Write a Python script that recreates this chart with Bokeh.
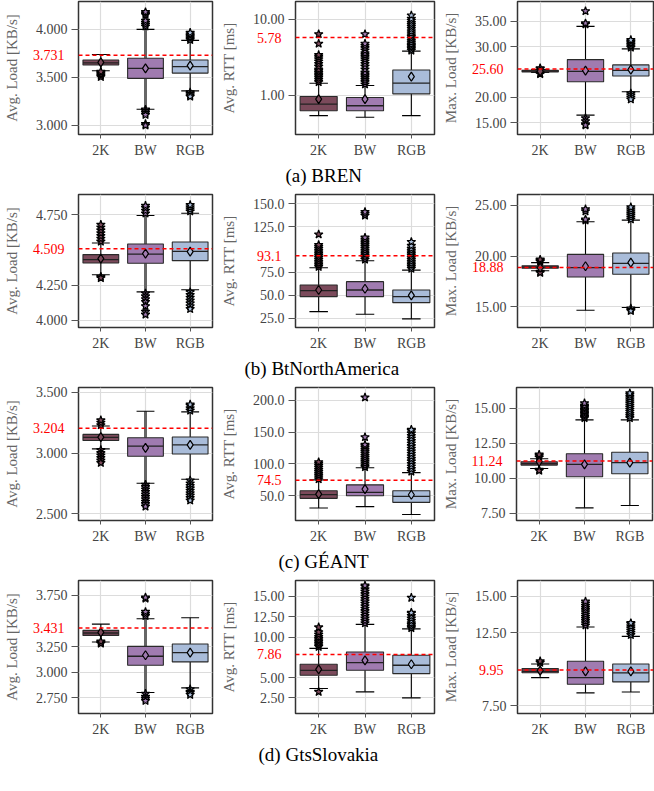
from bokeh.plotting import figure
from bokeh.layouts import row, column
from bokeh.models import (FactorRange, Range1d, FixedTicker, PrintfTickFormatter, Span, Title,
                          LinearAxis, LogAxis)
from bokeh.embed import file_html
from bokeh.resources import INLINE

CATS = ["2K", "BW", "RGB"]
COLORS = ["#7b4a5b", "#a07bb0", "#a9bcd9"]
FONT = "Liberation Serif"

CAPTIONS = ["(a) BREN", "(b) BtNorthAmerica", "(c) GÉANT", "(d) GtsSlovakia"]
CAPTION_OFFSETS = [-10, -51, -17, -37]
YLABELS = ["Avg. Load [KB/s]", "Avg. RTT [ms]", "Max. Load [KB/s]"]

# ---------------- (a) BREN ----------------
bren_load = dict(low=[3.570, 3.168, 3.360], q1=[3.629, 3.490, 3.545], med=[3.652, 3.594, 3.612],
                 q3=[3.682, 3.699, 3.682], high=[3.738, 4.000, 3.885], mean=[3.657, 3.594, 3.622])
bren_load_out = [[3.505, 3.52, 3.535, 3.55, 3.56],
                 [4.03, 4.05, 4.07, 4.09, 4.15, 4.165, 4.18, 3.165, 3.15, 3.13, 3.11, 3.015, 3.0],
                 [3.89, 3.905, 3.92, 3.935, 3.95, 3.965, 3.345, 3.33, 3.315, 3.30]]
bren_rtt = dict(low=[0.543, 0.517, 0.543], q1=[0.631, 0.631, 1.05], med=[0.77, 0.733, 1.45],
                q3=[0.97, 0.94, 2.16], high=[1.45, 1.35, 3.83], mean=[0.895, 0.895, 1.77])
bren_rtt_out = [[1.5, 1.6, 1.7, 1.8, 1.9, 2.0, 2.1, 2.2, 2.4, 2.6, 2.8, 3.0, 3.2, 3.4, 4.8, 6.4],
                [1.4, 1.5, 1.6, 1.7, 1.8, 1.9, 2.0, 2.2, 2.4, 2.6, 2.8, 3.0, 3.2, 3.4, 3.6, 3.9, 4.2, 4.5, 4.8, 6.4],
                [3.9, 4.1, 4.3, 4.5, 4.7, 5.0, 5.3, 5.6, 5.9, 6.2, 6.6, 7.0, 7.5, 8.0, 8.5, 9.0, 9.6, 10.2, 11.3]]
bren_max = dict(low=[24.9, 16.5, 21.1], q1=[25.0, 23.08, 24.2], med=[25.2, 25.13, 25.33],
                q3=[25.35, 27.45, 26.4], high=[25.5, 34.0, 29.57], mean=[25.15, 25.26, 25.46])
bren_max_out = [[24.6, 24.75, 25.6, 25.75],
                [37.0, 34.4, 34.6, 15.9, 15.3, 14.7, 14.5],
                [29.8, 30.1, 30.4, 30.7, 31.0, 31.3, 20.8, 20.4, 20.0, 19.6]]
bren_refs = [3.731, 5.78, 25.60]

# ---------------- (b) BtNorthAmerica ----------------
btna_load = dict(low=[4.324, 4.202, 4.217], q1=[4.407, 4.405, 4.424], med=[4.431, 4.471, 4.490],
                 q3=[4.467, 4.543, 4.557], high=[4.55, 4.745, 4.762], mean=[4.438, 4.474, 4.488])
btna_load_out = [[4.56, 4.58, 4.60, 4.62, 4.64, 4.66, 4.68, 4.31, 4.30],
                 [4.76, 4.78, 4.80, 4.815, 4.19, 4.17, 4.15, 4.13, 4.10, 4.06, 4.04],
                 [4.775, 4.79, 4.805, 4.82, 4.20, 4.18, 4.16, 4.14, 4.12, 4.10, 4.08]]
btna_rtt = dict(low=[32.2, 29.3, 24.3], q1=[48.6, 48.6, 42.0], med=[55.1, 55.8, 48.6],
                q3=[61.2, 64.9, 55.8], high=[80.1, 87.7, 77.5], mean=[55.8, 57.2, 50.0])
btna_rtt_out = [[81, 83, 85, 87, 89, 91, 93, 95, 97, 99, 101, 103, 105, 116.5],
                [89, 91, 93, 95, 97, 99, 101, 103, 105, 107, 109, 111, 113, 137, 139, 141],
                [79, 81, 83, 85, 87, 89, 91, 93, 95, 97, 99, 101, 104, 108.3]]
btna_max = dict(low=[18.55, 14.67, 14.93], q1=[18.80, 17.94, 18.2], med=[18.92, 18.85, 19.28],
                q3=[19.05, 20.16, 20.29], high=[19.35, 23.37, 23.53], mean=[18.85, 18.99, 19.35])
btna_max_out = [[19.45, 19.55, 19.65, 18.45, 18.35],
                [23.5, 23.6, 24.4, 24.6],
                [23.6, 23.8, 24.0, 24.2, 24.4, 24.6, 24.8, 14.85, 14.7, 14.6]]
btna_refs = [4.509, 93.1, 18.88]

# ---------------- (c) GÉANT ----------------
geant_load = dict(low=[3.035, 2.752, 2.785], q1=[3.104, 2.974, 2.993], med=[3.129, 3.057, 3.068],
                  q3=[3.154, 3.126, 3.132], high=[3.223, 3.345, 3.339], mean=[3.132, 3.043, 3.068])
geant_load_out = [[3.23, 3.25, 3.27, 3.025, 3.0, 2.98, 2.96, 2.94, 2.92],
                  [2.74, 2.72, 2.70, 2.68, 2.66, 2.64, 2.62, 2.60, 2.58, 2.56],
                  [3.35, 3.37, 3.39, 3.40, 2.775, 2.75, 2.73, 2.71, 2.69, 2.67, 2.65, 2.63, 2.61]]
geant_rtt = dict(low=[30.8, 32.9, 20.5], q1=[45.9, 50.0, 39.6], med=[51.6, 55.2, 49.0],
                 q3=[57.8, 67.1, 57.8], high=[74.9, 94.0, 86.3], mean=[52.6, 60.4, 51.6])
geant_rtt_out = [[76, 79, 82, 85, 88, 91, 94, 97, 100, 102.8],
                 [95, 98, 101, 104, 107, 110, 113, 116, 119, 122, 125, 128, 130, 142, 204.4],
                 [88, 92, 96, 100, 104, 108, 112, 116, 120, 124, 128, 132, 136, 140, 144, 148, 152, 153.6]]
geant_max = dict(low=[10.71, 7.9, 8.07], q1=[10.95, 10.12, 10.33], med=[11.05, 11.0, 11.12],
                 q3=[11.19, 11.76, 11.86], high=[11.4, 14.17, 14.17], mean=[11.19, 11.0, 11.12])
geant_max_out = [[11.5, 11.6, 11.7, 10.62, 10.55],
                 [14.3, 14.4, 14.5, 14.6, 14.7, 14.8, 14.9, 15.0, 15.1, 15.2, 15.36],
                 [14.3, 14.45, 14.6, 14.75, 14.9, 15.05, 15.2, 15.35, 15.5, 15.65, 15.8, 15.95, 16.07]]
geant_refs = [3.204, 74.5, 11.24]

# ---------------- (d) GtsSlovakia ----------------
gts_load = dict(low=[3.295, 2.802, 2.847], q1=[3.36, 3.068, 3.101], med=[3.383, 3.156, 3.192],
                q3=[3.409, 3.253, 3.276], high=[3.47, 3.523, 3.532], mean=[3.39, 3.166, 3.192])
gts_load_out = [[3.29, 3.28, 3.30],
                [3.55, 3.57, 3.59, 3.72, 3.73, 2.79, 2.76, 2.74, 2.72],
                [2.834, 2.81, 2.80, 2.78]]
gts_rtt = dict(low=[3.65, 3.24, 2.5], q1=[5.29, 5.9, 5.49], med=[5.9, 6.84, 6.52],
               q3=[6.64, 8.16, 7.75], high=[8.6, 11.56, 11.0], mean=[6.02, 7.13, 6.64])
gts_rtt_out = [[8.8, 9.0, 9.2, 9.4, 9.6, 9.8, 10.0, 10.3, 10.6, 11.2, 3.24],
               [11.7, 12.0, 12.3, 12.6, 12.9, 13.2, 13.5, 13.8, 14.1, 14.4, 14.7, 15.0, 15.3, 15.6, 15.9, 16.2, 16.35],
               [11.1, 11.3, 11.5, 11.7, 12.0, 12.3, 12.6, 12.9, 13.0, 14.84]]
gts_max = dict(low=[9.43, 8.39, 8.45], q1=[9.77, 8.98, 9.14], med=[9.86, 9.43, 9.75],
               q3=[10.05, 10.55, 10.36], high=[10.36, 12.89, 12.25], mean=[9.91, 9.86, 9.86])
gts_max_out = [[10.45, 10.55],
               [13.0, 13.15, 13.3, 13.45, 13.6, 13.75, 13.9, 14.05, 14.2, 14.35, 14.5, 14.64],
               [12.35, 12.5, 12.65, 12.8, 12.95, 13.1, 13.16]]
gts_refs = [3.431, 7.86, 9.95]

# tick values per panel (row-major)
TICKS = [
    [[3.0, 3.5, 4.0], [1.0, 10.0], [15, 20, 30, 35]],
    [[4.0, 4.25, 4.75], [25, 50, 75, 125, 150], [15, 20, 25]],
    [[2.5, 3.0, 3.5], [50, 100, 150, 200], [7.5, 10, 12.5, 15]],
    [[2.75, 3.0, 3.25, 3.75], [2.5, 5, 10, 12.5, 15], [7.5, 12.5, 15]],
]
YRANGES = [
    [(2.906, 4.29), (0.307, 17.2), (12.68, 38.9)],
    [(3.948, 4.895), (14.9, 160), (12.97, 26.05)],
    [(2.445, 3.54), (11.1, 220), (7.0, 16.48)],
    [(2.597, 3.896), (0.57, 16.97), (6.98, 16.07)],
]
FORMATS = [
    ["%.3f", "%.2f", "%.2f"],
    ["%.3f", "%.1f", "%.2f"],
    ["%.3f", "%.1f", "%.2f"],
    ["%.3f", "%.2f", "%.2f"],
]

ROWS = [
    ([bren_load, bren_rtt, bren_max], [bren_load_out, bren_rtt_out, bren_max_out], bren_refs),
    ([btna_load, btna_rtt, btna_max], [btna_load_out, btna_rtt_out, btna_max_out], btna_refs),
    ([geant_load, geant_rtt, geant_max], [geant_load_out, geant_rtt_out, geant_max_out], geant_refs),
    ([gts_load, gts_rtt, gts_max], [gts_load_out, gts_rtt_out, gts_max_out], gts_refs),
]

FRAME_W = [134, 139, 136]
BORDER_L = [71, 71, 70]
BORDER_R = [5, 5, 7]
FRAME_H = 133
Y_TICK_OUT = 7
Y_STANDOFF = 4
LABEL_PX = 14
DIGIT_W = 7.0      # width of one digit at 14px Liberation Serif
DOT_W = 3.5


def text_w(s):
    return sum(DOT_W if ch == "." else DIGIT_W for ch in s)


def style_axis(ax):
    ax.axis_line_color = None
    ax.minor_tick_line_color = None
    ax.major_tick_in = 0
    ax.major_label_text_font = FONT
    ax.major_label_text_font_size = f"{LABEL_PX}px"
    ax.axis_label_text_font = FONT
    ax.axis_label_text_font_style = "normal"
    ax.axis_label_text_font_size = "15px"
    ax.axis_label_text_color = "#666666"


def make_panel(r, c, stats, outs, ref):
    log = (r == 0 and c == 1)
    fmt = FORMATS[r][c]
    p = figure(x_range=FactorRange(*CATS), y_range=Range1d(*YRANGES[r][c]),
               y_axis_type="log" if log else "linear",
               frame_width=FRAME_W[c], frame_height=FRAME_H,
               min_border_left=BORDER_L[c], min_border_right=BORDER_R[c],
               min_border_top=1, min_border_bottom=59,
               output_backend="svg", toolbar_location=None)
    p.background_fill_color = "white"
    p.outline_line_color = "#333333"
    p.outline_line_width = 1.5
    p.xgrid.grid_line_color = "#dcdcdc"
    p.ygrid.grid_line_color = "#dcdcdc"
    p.xgrid.grid_line_width = 1.2
    p.ygrid.grid_line_width = 1.2

    p.yaxis.ticker = FixedTicker(ticks=TICKS[r][c], minor_ticks=[])
    p.yaxis.formatter = PrintfTickFormatter(format=fmt)
    for ax in (p.xaxis[0], p.yaxis[0]):
        style_axis(ax)
        ax.major_tick_line_color = "#555555"
        ax.major_label_text_color = "#444444"
    p.yaxis.major_tick_out = Y_TICK_OUT
    p.yaxis.major_label_standoff = Y_STANDOFF
    p.xaxis.major_tick_out = 4
    p.xaxis.major_label_standoff = 4

    # outer axis carrying the red reference tick label (pulled back over the black labels)
    black_w = max(text_w(fmt % t) for t in TICKS[r][c])
    red_w = text_w(fmt % ref)
    AxisCls = LogAxis if log else LinearAxis
    red_ax = AxisCls(ticker=FixedTicker(ticks=[ref], minor_ticks=[]),
                     formatter=PrintfTickFormatter(format=fmt))
    style_axis(red_ax)
    red_ax.major_tick_line_color = None
    red_ax.major_tick_out = 0
    red_ax.major_label_text_color = "red"
    red_ax.major_label_standoff = -int(round(black_w))
    red_ax.axis_label = YLABELS[c]
    red_ax.axis_label_standoff = int(round(10 + black_w - red_w))
    p.add_layout(red_ax, "left")

    xs = [i + 0.5 for i in range(len(CATS))]
    wcol = ["black"] * 3
    wwid = [1.1] * 3
    if c == 0:
        wcol[1] = "#666666"
        wwid[1] = 3
    # whiskers
    p.segment(x0=xs, y0=stats["q3"], x1=xs, y1=stats["high"], line_color=wcol, line_width=wwid)
    p.segment(x0=xs, y0=stats["q1"], x1=xs, y1=stats["low"], line_color=wcol, line_width=wwid)
    # caps
    p.segment(x0=[x - 0.2 for x in xs], x1=[x + 0.2 for x in xs], y0=stats["high"], y1=stats["high"],
              line_color="black", line_width=1.1)
    p.segment(x0=[x - 0.2 for x in xs], x1=[x + 0.2 for x in xs], y0=stats["low"], y1=stats["low"],
              line_color="black", line_width=1.1)
    # boxes
    p.vbar(x=CATS, bottom=stats["q1"], top=stats["q3"], width=0.8, fill_color=COLORS,
           line_color="#2a2a2a", line_width=1.1)
    # medians
    p.segment(x0=[x - 0.4 for x in xs], x1=[x + 0.4 for x in xs], y0=stats["med"], y1=stats["med"],
              line_color="#222222", line_width=1.3)
    # outliers
    ox, oy, oc = [], [], []
    for i, vals in enumerate(outs):
        ox += [CATS[i]] * len(vals)
        oy += vals
        oc += [COLORS[i]] * len(vals)
    p.scatter(x=ox, y=oy, marker="star", size=9, fill_color=oc, line_color="black", line_width=1.2)
    # means
    p.scatter(x=CATS, y=stats["mean"], marker="diamond", size=9, fill_color=COLORS,
              line_color="black", line_width=1.2)
    # reference line
    p.add_layout(Span(location=ref, dimension="width", line_color="red", line_dash="4 3", line_width=1.5))
    if c == 1:
        p.add_layout(Title(text=CAPTIONS[r], align="left", offset=CAPTION_OFFSETS[r],
                           text_font=FONT, text_font_size="19px", text_font_style="normal",
                           text_color="black", standoff=5), "below")
    return p


rows = []
for r, (stats_list, outs_list, refs) in enumerate(ROWS):
    figs = [make_panel(r, c, stats_list[c], outs_list[c], refs[c]) for c in range(3)]
    rows.append(row(*figs))

layout = column(*rows)
open("out.html", "w").write(file_html(layout, INLINE))
